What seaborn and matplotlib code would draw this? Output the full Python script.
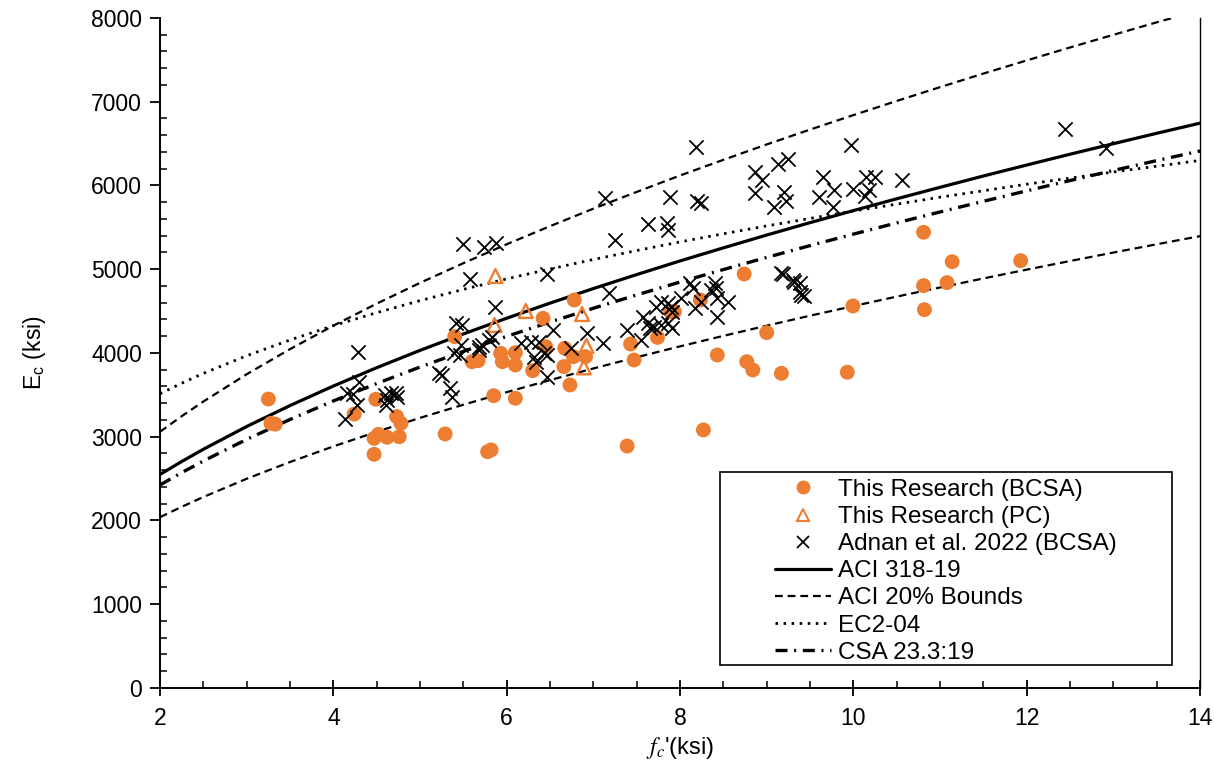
import matplotlib
matplotlib.use("Agg")
import matplotlib.pyplot as plt
import seaborn as sns
import pandas as pd
from matplotlib.ticker import MultipleLocator
from matplotlib.patches import Rectangle
from matplotlib.lines import Line2D

# ---------------- data ----------------
bcsa_fc = [3.25, 3.28, 3.33, 4.24, 4.49, 4.73, 4.78, 4.47, 4.52, 4.62, 4.76, 4.47,
           5.29, 5.40, 5.60, 5.67, 5.78, 5.82, 5.85, 5.93, 5.95,
           6.10, 6.10, 6.10, 6.30, 6.42, 6.45, 6.66, 6.67, 6.73, 6.77, 6.78, 6.91,
           7.39, 7.43, 7.47, 7.74, 7.89, 7.935, 8.235, 8.27, 8.43, 8.74, 8.77, 8.84,
           9.00, 9.17, 9.93, 9.995, 10.81, 10.81, 10.82, 11.08, 11.14, 11.93]
bcsa_ec = [3450, 3160, 3150, 3270, 3447, 3240, 3160, 2981, 3029, 2993, 3000, 2790,
           3033, 4195, 3896, 3908, 2821, 2842, 3490, 3996, 3896,
           4004, 3857, 3459, 3789, 4414, 4075, 3837, 4056, 3618, 3956, 4633, 3956,
           2889, 4107, 3916, 4186, 4493, 4493, 4633, 3081, 3976, 4943, 3896, 3797,
           4243, 3757, 3770, 4561, 5441, 4804, 4517, 4840, 5090, 5102]

pc_fc = [5.87, 6.22, 5.86, 6.87, 6.92, 6.89]
pc_ec = [4919, 4501, 4334, 4465, 4084, 3828]

adnan_fc = [4.13, 4.16, 4.23, 4.27, 4.29, 4.30,
            4.60, 4.62, 4.61, 4.66, 4.72, 4.74,
            5.22, 5.25, 5.35, 5.37, 5.39, 5.46, 5.41, 5.48, 5.47,
            5.50, 5.58, 5.68, 5.72, 5.68, 5.74, 5.88, 5.80, 5.83, 5.87,
            6.16, 6.28, 6.37, 6.32, 6.34, 6.43, 6.47, 6.47, 6.47, 6.53, 6.74, 6.93,
            7.11, 7.13, 7.18, 7.25, 7.39, 7.55, 7.57, 7.63, 7.65, 7.70, 7.78, 7.86, 7.91,
            7.63, 7.72, 7.78, 7.86, 7.90, 7.91, 7.85, 7.86, 7.88,
            8.01, 8.11, 8.15, 8.17, 8.24, 8.18, 8.20, 8.24,
            8.36, 8.40, 8.42, 8.43, 8.55, 8.43,
            8.87, 8.95, 8.87, 9.08, 9.13, 9.25, 9.20, 9.22,
            9.17, 9.19, 9.30, 9.32, 9.38, 9.38, 9.40, 9.43,
            9.60, 9.65, 9.76, 9.78, 9.97, 10.00, 10.13, 10.18, 10.15, 10.25, 10.56,
            12.44, 12.91]
adnan_ec = [3208, 3518, 3510, 3379, 4010, 3658,
            3498, 3439, 3379, 3518, 3526, 3478,
            3757, 3737, 3578, 3478, 3996, 3976, 4354, 4334, 4096,
            5301, 4880, 4075, 4096, 4036, 5270, 5310, 4155, 4195, 4545,
            4116, 4135, 4135, 3956, 3896, 3996, 3976, 4943, 3717, 4275, 4056, 4235,
            4116, 5847, 4713, 5349, 4275, 4155, 4433, 4354, 4294, 4314, 4334, 4354, 4294,
            5540, 4553, 4613, 4593, 4553, 4494, 5548, 5469, 5859,
            4652, 4832, 4772, 4533, 4613, 6456, 5815, 5787,
            4752, 4832, 4772, 4652, 4613, 4433,
            6157, 6066, 5907, 5747, 6257, 6316, 5927, 5815,
            4959, 4940, 4872, 4852, 4832, 4732, 4693, 4680,
            5867, 6106, 5740, 5946, 6483, 5955, 5875, 5946, 6098, 6098, 6066,
            6671, 6452]

# model curves read at 0.5 ksi steps
curve_fc = [2, 2.25, 2.5, 3, 3.5, 4, 4.5, 5, 5.5, 6, 6.5, 7, 7.5, 8, 8.5, 9, 9.5,
            10, 10.5, 11, 11.5, 12, 12.5, 13, 13.5, 14]
aci_318 = [2549, 2704, 2850, 3122, 3372, 3605, 3824, 4031, 4227, 4415, 4595, 4769,
           4936, 5099, 5255, 5408, 5556, 5700, 5841, 5978, 6113, 6244, 6373, 6499,
           6623, 6744]
aci_low = [2039, 2163, 2280, 2498, 2698, 2884, 3059, 3225, 3382, 3532, 3676, 3815,
           3949, 4079, 4204, 4326, 4445, 4560, 4673, 4782, 4890, 4995, 5098, 5199,
           5298, 5395]
aci_up = [3059, 3245, 3420, 3746, 4046, 4326, 4589, 4837, 5072, 5298, 5514, 5723,
          5923, 6119, 6306, 6490, 6667, 6840, 7009, 7174, 7336, 7493, 7648, 7799,
          7948, 8093]
ec2_04 = [3513, 3639, 3756, 3967, 4155, 4326, 4481, 4625, 4759, 4885, 5003, 5116,
          5223, 5326, 5423, 5517, 5606, 5695, 5777, 5860, 5937, 6015, 6088, 6161,
          6230, 6299]
csa_233 = [2424, 2571, 2710, 2968, 3206, 3427, 3635, 3832, 4019, 4198, 4369, 4534,
           4693, 4847, 4996, 5141, 5282, 5419, 5553, 5684, 5811, 5936, 6059, 6179,
           6297, 6412]

labels = ["This Research (BCSA)", "This Research (PC)", "Adnan et al. 2022 (BCSA)",
          "ACI 318-19", "ACI 20% Bounds", "EC2-04", "CSA 23.3:19"]

# ---------------- style ----------------
sns.set_style("ticks")
plt.rcParams["font.family"] = ["Liberation Sans", "DejaVu Sans"]
plt.rcParams["mathtext.fontset"] = "stix"
plt.rcParams["mathtext.rm"] = "Liberation Sans"
for k in ["text.color", "axes.labelcolor", "xtick.color", "ytick.color",
          "axes.edgecolor"]:
    plt.rcParams[k] = "black"

ORANGE = "#ED7D31"

fig = plt.figure(figsize=(12.14, 7.65), dpi=100)
ax = fig.add_axes([0.1318, 0.1007, 0.8567, 0.8758])

curves = pd.DataFrame({"fc": curve_fc, "aci": aci_318, "low": aci_low,
                       "up": aci_up, "ec2": ec2_04, "csa": csa_233})

common = dict(ax=ax, color="black", estimator=None, errorbar=None, zorder=2)
sns.lineplot(data=curves, x="fc", y="up", lw=1.6, **common)
sns.lineplot(data=curves, x="fc", y="low", lw=1.6, **common)
sns.lineplot(data=curves, x="fc", y="ec2", lw=2.0, **common)
sns.lineplot(data=curves, x="fc", y="csa", lw=2.4, **common)
sns.lineplot(data=curves, x="fc", y="aci", lw=2.3, **common)

dash_b = (3.5, 2.2)
dot_e = (0.9, 2.0)
dashdot_c = (3.6, 2.0, 0.6, 2.0)
lines = ax.get_lines()
lines[0].set_dashes(dash_b)
lines[1].set_dashes(dash_b)
lines[2].set_dashes(dot_e)
lines[3].set_dashes(dashdot_c)

sns.scatterplot(x=bcsa_fc, y=bcsa_ec, ax=ax, color=ORANGE, marker="o", s=115,
                edgecolor="none", zorder=3)
sns.scatterplot(x=pc_fc, y=pc_ec, ax=ax, marker="^", s=100, facecolor="none",
                edgecolor=ORANGE, linewidth=1.7, zorder=3)
sns.scatterplot(x=adnan_fc, y=adnan_ec, ax=ax, marker="x", s=105, color="black",
                linewidth=1.3, zorder=3)

ax.set_xlim(2, 14)
ax.set_ylim(0, 8000)
ax.xaxis.set_major_locator(MultipleLocator(2))
ax.xaxis.set_minor_locator(MultipleLocator(0.5))
ax.yaxis.set_major_locator(MultipleLocator(1000))
ax.yaxis.set_minor_locator(MultipleLocator(200))
ax.tick_params(axis="x", which="major", direction="inout", length=11, width=1.3,
               labelsize=16.5, pad=8)
ax.tick_params(axis="x", which="minor", direction="in", length=5, width=1.1)
ax.tick_params(axis="y", which="major", direction="out", length=7, width=1.3,
               labelsize=16.5, pad=6)
ax.tick_params(axis="y", which="minor", direction="in", length=5, width=1.1)

for s in ["left", "bottom"]:
    ax.spines[s].set_linewidth(1.4)
ax.spines["top"].set_visible(False)
ax.spines["right"].set_visible(True)
ax.spines["right"].set_linewidth(1.0)

ax.set_xlabel(r"$f_c$'(ksi)", fontsize=17, labelpad=4)
ax.set_ylabel(r"E$_\mathregular{c}$ (ksi)", fontsize=16.5, labelpad=31)

# legend
handles = [
    Line2D([], [], ls="none", marker="o", color=ORANGE, markersize=10, mec="none"),
    Line2D([], [], ls="none", marker="^", mfc="none", mec=ORANGE, markersize=9, mew=1.5),
    Line2D([], [], ls="none", marker="x", color="black", markersize=9, mew=1.3),
    Line2D([], [], color="black", lw=2.3),
    Line2D([], [], color="black", lw=1.6, dashes=dash_b),
    Line2D([], [], color="black", lw=2.0, dashes=dot_e),
    Line2D([], [], color="black", lw=2.4, dashes=dashdot_c),
]
ax.add_patch(Rectangle((0.538, 0.034), 0.435, 0.288, transform=ax.transAxes,
                       facecolor="white", edgecolor="black", lw=1.2, zorder=4))
leg = ax.legend(handles, labels, loc="upper left", bbox_to_anchor=(0.591, 0.312),
                frameon=False, fontsize=17.5, handlelength=2.3, handletextpad=0.3,
                labelspacing=0.21, borderpad=0, borderaxespad=0)
leg.set_zorder(5)

fig.savefig("out.png", dpi=100)
